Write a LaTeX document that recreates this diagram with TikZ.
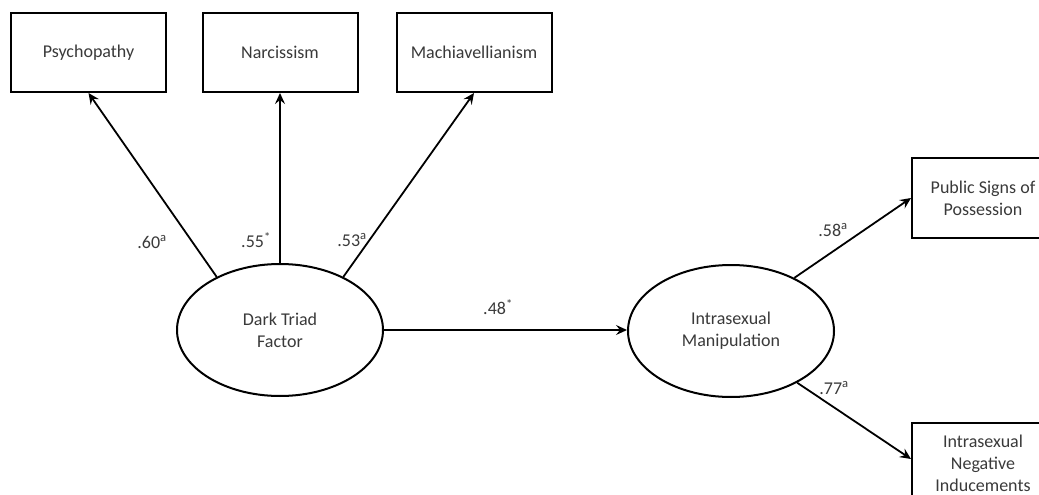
\documentclass[tikz,border=0pt]{standalone}
\usepackage{fontspec}
\setmainfont{Carlito}
\usetikzlibrary{arrows.meta,shapes.geometric}
\definecolor{txt}{HTML}{3A3A3A}
\tikzset{
  every node/.style={text=txt, font=\fontsize{18}{22}\selectfont},
  varbox/.style={draw=black, line width=2pt, minimum width=155pt, minimum height=79pt, inner sep=0pt, align=center},
  latent/.style={ellipse, draw=black, line width=2pt, minimum width=206pt, minimum height=132pt, inner sep=0pt, align=center},
  path/.style={draw=black, line width=1.8pt, -{Stealth[length=11pt,width=10pt,inset=4pt]}},
  coef/.style={inner sep=0pt}
}
\begin{document}
\begin{tikzpicture}[x=1pt,y=-1pt]
\useasboundingbox[fill=white] (0,0) rectangle (1039,495);
% observed variables
\node[varbox] (psy) at (88.5,52.5) {Psychopathy};
\node[varbox] (nar) at (280,52.5) {Narcissism};
\node[varbox] (mac) at (474,52.5) {Machiavellianism};
\node[varbox, minimum width=142pt, minimum height=80pt] (pub) at (983,198) {Public Signs of\\Possession};
\node[varbox, minimum width=142pt, minimum height=80pt] (neg) at (983,463) {Intrasexual\\Negative\\Inducements};
% latent variables
\node[latent] (dt) at (280,330) {Dark Triad\\Factor};
\node[latent] (im) at (731,331) {Intrasexual\\Manipulation};
% paths
\draw[path] (dt.140) -- (psy.south);
\draw[path] (dt.north) -- (nar.south);
\draw[path] (dt.40) -- (mac.south);
\draw[path] (dt.east) -- (dt.east -| im.west);
\draw[path] (im.40) -- (pub.west);
\draw[path] (im.322) -- ([yshift=4pt]neg.west);
% coefficients
\node[coef] (c1) at (152,242) {.60\textsuperscript{a}};
\node[coef] (c2) at (256,240) {.55\textsuperscript{*}};
\node[coef] (c3) at (352,240) {.53\textsuperscript{a}};
\node[coef] (c4) at (498,307) {.48\textsuperscript{*}};
\node[coef] (c5) at (833,230) {.58\textsuperscript{a}};
\node[coef] (c6) at (834,388) {.77\textsuperscript{a}};
\end{tikzpicture}
\end{document}
